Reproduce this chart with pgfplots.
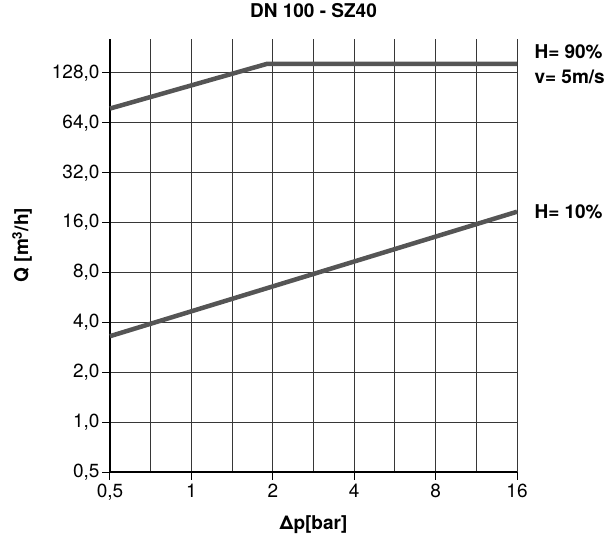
\documentclass[border=0pt]{standalone}
\usepackage{fontspec}
\setmainfont{TeX Gyre Heros}
\usepackage{pgfplots}
\pgfplotsset{compat=1.18}

\definecolor{curvegray}{RGB}{85,85,85}
\definecolor{gridgray}{RGB}{55,55,55}
\newcommand{\bigfont}{\fontsize{19}{22}\selectfont}

\begin{document}
\begin{tikzpicture}[font=\bigfont]
\useasboundingbox (-110pt,-66pt) rectangle (500pt,472pt);
\begin{axis}[
at={(0,0)}, anchor=south west,
scale only axis, width=407pt, height=433pt,
clip=false,
xmode=log, ymode=log,
xmin=0.5, xmax=16, ymin=0.5, ymax=205,
axis x line*=bottom, axis y line*=left,
axis line style={line width=2pt, black, -},
xtick={0.5,1,2,4,8,16},
xticklabels={{0,5},1,2,4,8,16},
minor xtick={0.7071,1.4142,2.8284,5.6569,11.3137},
ytick={0.5,1,2,4,8,16,32,64,128},
yticklabels={{0,5},{1,0},{2,0},{4,0},{8,0},{16,0},{32,0},{64,0},{128,0}},
minor ytick={},
grid=both,
major grid style={gridgray, line width=1pt},
minor grid style={gridgray, line width=1pt},
tick align=outside,
major tick length=8pt, minor tick length=0pt,
tick style={black, line width=1pt},
/pgf/number format/assume math mode=true,
tick label style={font=\bigfont},
xticklabel style={yshift=-1pt},
yticklabel style={xshift=1pt},
title={DN 100 - SZ40},
title style={font=\bigfont\bfseries, at={(0.5,1)}, anchor=center, yshift=22pt},
xlabel={Δp[bar]},
xlabel style={font=\bigfont\bfseries, at={(axis description cs:0.5,0)}, anchor=center, yshift=-53pt},
ylabel={Q [m\textsuperscript{3}/h]},
ylabel style={font=\bigfont\bfseries, at={(axis description cs:-0.216,0.524)}, anchor=center},
]
\addplot[curvegray, line width=4.5pt] coordinates {(0.5,78) (1.9,145) (16,145)};
\addplot[curvegray, line width=4.5pt] coordinates {(0.5,3.3) (16,18.6)};
\node[anchor=west, font=\bigfont\bfseries] at ([xshift=14pt]rel axis cs:1,0.970) {H= 90\%};
\node[anchor=west, font=\bigfont\bfseries] at ([xshift=14pt]rel axis cs:1,0.912) {v= 5m/s};
\node[anchor=west, font=\bigfont\bfseries] at ([xshift=14pt]rel axis cs:1,0.600) {H= 10\%};
\end{axis}
\end{tikzpicture}
\end{document}
